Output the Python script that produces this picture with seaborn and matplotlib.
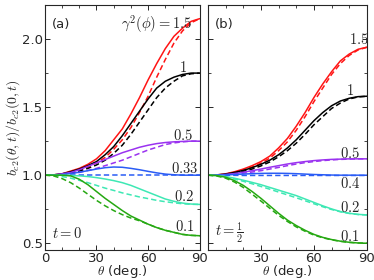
import pandas as pd
import matplotlib
matplotlib.use("Agg")
import matplotlib.pyplot as plt
from matplotlib.ticker import MultipleLocator
import seaborn as sns

theta = [0, 5, 10, 15, 20, 25, 30, 35, 40, 45, 50, 55, 60, 65, 70, 75, 80, 85, 90]

# panel (a), t = 0
a15_solid = [1.0, 1.002, 1.01, 1.03, 1.05, 1.08, 1.12, 1.18, 1.26, 1.34, 1.45, 1.57, 1.70, 1.82, 1.93, 2.02, 2.08, 2.13, 2.15]
a15_dash = [1.0, 1.0, 1.005, 1.02, 1.035, 1.06, 1.09, 1.13, 1.19, 1.26, 1.35, 1.46, 1.58, 1.72, 1.85, 1.97, 2.06, 2.12, 2.15]
a1_solid = [1.0, 1.002, 1.01, 1.025, 1.045, 1.07, 1.10, 1.15, 1.21, 1.29, 1.38, 1.47, 1.56, 1.64, 1.69, 1.72, 1.74, 1.75, 1.75]
a1_dash = [1.0, 1.0, 1.005, 1.015, 1.03, 1.05, 1.075, 1.11, 1.16, 1.22, 1.30, 1.39, 1.48, 1.57, 1.64, 1.69, 1.73, 1.745, 1.75]
a05_solid = [1.0, 1.002, 1.01, 1.02, 1.04, 1.065, 1.09, 1.115, 1.14, 1.165, 1.185, 1.205, 1.22, 1.232, 1.24, 1.245, 1.248, 1.25, 1.25]
a05_dash = [1.0, 1.0, 1.005, 1.01, 1.02, 1.035, 1.05, 1.07, 1.09, 1.11, 1.135, 1.16, 1.185, 1.205, 1.225, 1.237, 1.245, 1.25, 1.25]
a033_solid = [1.0, 1.001, 1.005, 1.012, 1.022, 1.033, 1.045, 1.055, 1.06, 1.058, 1.05, 1.04, 1.028, 1.017, 1.008, 1.003, 1.0, 1.0, 1.0]
a033_dash = [1.0, 1.0, 1.0, 1.0, 1.0, 1.0, 1.0, 1.0, 1.0, 1.0, 1.0, 1.0, 1.0, 1.0, 1.0, 1.0, 1.0, 1.0, 1.0]
a02_solid = [1.0, 1.0, 1.0, 0.998, 0.995, 0.99, 0.982, 0.972, 0.96, 0.945, 0.925, 0.90, 0.875, 0.85, 0.825, 0.808, 0.795, 0.788, 0.785]
a02_dash = [1.0, 0.998, 0.99, 0.978, 0.962, 0.945, 0.925, 0.905, 0.888, 0.87, 0.855, 0.84, 0.828, 0.815, 0.805, 0.797, 0.79, 0.786, 0.785]
a01_solid = [1.0, 1.0, 1.0, 0.995, 0.97, 0.93, 0.88, 0.83, 0.785, 0.74, 0.70, 0.67, 0.64, 0.615, 0.595, 0.58, 0.565, 0.558, 0.555]
a01_dash = [1.0, 0.995, 0.975, 0.945, 0.905, 0.86, 0.815, 0.775, 0.74, 0.71, 0.685, 0.665, 0.64, 0.615, 0.595, 0.58, 0.565, 0.558, 0.555]

# panel (b), t = 1/2
b15_solid = [1.0, 1.002, 1.01, 1.025, 1.045, 1.07, 1.10, 1.14, 1.20, 1.27, 1.36, 1.46, 1.57, 1.67, 1.76, 1.84, 1.89, 1.925, 1.94]
b15_dash = [1.0, 1.0, 1.007, 1.02, 1.038, 1.06, 1.088, 1.125, 1.18, 1.245, 1.33, 1.43, 1.54, 1.64, 1.74, 1.82, 1.88, 1.92, 1.94]
b1_solid = [1.0, 1.002, 1.008, 1.02, 1.035, 1.055, 1.08, 1.11, 1.15, 1.20, 1.26, 1.33, 1.40, 1.46, 1.51, 1.545, 1.565, 1.577, 1.58]
b1_dash = [1.0, 1.0, 1.005, 1.015, 1.028, 1.045, 1.068, 1.097, 1.135, 1.18, 1.235, 1.30, 1.37, 1.43, 1.49, 1.53, 1.56, 1.575, 1.58]
b05_solid = [1.0, 1.001, 1.005, 1.012, 1.022, 1.033, 1.045, 1.058, 1.07, 1.082, 1.092, 1.10, 1.107, 1.112, 1.116, 1.118, 1.12, 1.12, 1.12]
b05_dash = [1.0, 1.0, 1.003, 1.008, 1.015, 1.023, 1.033, 1.045, 1.057, 1.07, 1.082, 1.092, 1.10, 1.107, 1.112, 1.116, 1.118, 1.12, 1.12]
b04_solid = [1.0, 1.0, 1.002, 1.005, 1.008, 1.011, 1.013, 1.014, 1.014, 1.013, 1.011, 1.008, 1.005, 1.003, 1.001, 1.0, 1.0, 1.0, 1.0]
b04_dash = [1.0, 1.0, 1.0, 0.999, 0.998, 0.998, 0.998, 0.998, 0.998, 0.998, 0.998, 0.998, 0.998, 0.998, 0.998, 0.998, 0.998, 0.998, 0.998]
b02_solid = [1.0, 0.998, 0.99, 0.978, 0.963, 0.947, 0.93, 0.91, 0.89, 0.87, 0.85, 0.825, 0.80, 0.775, 0.752, 0.733, 0.72, 0.712, 0.708]
b02_dash = [1.0, 0.996, 0.986, 0.972, 0.955, 0.937, 0.917, 0.897, 0.876, 0.855, 0.834, 0.812, 0.79, 0.768, 0.748, 0.731, 0.719, 0.711, 0.708]
b01_solid = [1.0, 0.997, 0.985, 0.96, 0.925, 0.88, 0.83, 0.775, 0.72, 0.67, 0.63, 0.595, 0.565, 0.543, 0.527, 0.515, 0.507, 0.502, 0.50]
b01_dash = [1.0, 0.994, 0.978, 0.95, 0.91, 0.86, 0.81, 0.757, 0.705, 0.66, 0.62, 0.588, 0.56, 0.54, 0.525, 0.514, 0.506, 0.502, 0.50]

gammas_a = ["1.5", "1", "0.5", "0.33", "0.2", "0.1"]
gammas_b = ["1.5", "1", "0.5", "0.4", "0.2", "0.1"]
colors = ["#ff1414", "#000000", "#9a32f0", "#2a5cf5", "#3ee8b4", "#26a812"]

series_a = [(a15_solid, a15_dash), (a1_solid, a1_dash), (a05_solid, a05_dash),
            (a033_solid, a033_dash), (a02_solid, a02_dash), (a01_solid, a01_dash)]
series_b = [(b15_solid, b15_dash), (b1_solid, b1_dash), (b05_solid, b05_dash),
            (b04_solid, b04_dash), (b02_solid, b02_dash), (b01_solid, b01_dash)]

# curve labels: (x, y) in data units
labels_a = [(85.5, 2.11), (80.5, 1.79), (80.5, 1.29), (81.5, 1.05), (81, 0.84), (81, 0.62)]
labels_b = [(85.5, 2.0), (80.5, 1.62), (80.5, 1.16), (80.5, 0.94), (80.5, 0.76), (80.5, 0.55)]


def make_frame(gammas, series):
    rows = []
    for g, (sol, das) in zip(gammas, series):
        for th, v in zip(theta, sol):
            rows.append({"theta": th, "b": v, "gamma": g, "kind": "solid"})
        for th, v in zip(theta, das):
            rows.append({"theta": th, "b": v, "gamma": g, "kind": "dashed"})
    return pd.DataFrame(rows)


df_a = make_frame(gammas_a, series_a)
df_b = make_frame(gammas_b, series_b)

sns.set_style("ticks")
plt.rcParams["font.family"] = ["DejaVu Sans"]
plt.rcParams["mathtext.fontset"] = "cm"
plt.rcParams["xtick.direction"] = "in"
plt.rcParams["ytick.direction"] = "in"

fig = plt.figure(figsize=(3.74, 2.80), dpi=100)
ax_a = fig.add_axes([0.120, 0.107, 0.414, 0.875])
ax_b = fig.add_axes([0.556, 0.107, 0.425, 0.875])

for ax, df, gammas, labels, tag, tlabel in [
        (ax_a, df_a, gammas_a, labels_a, "(a)", r"$t=0$"),
        (ax_b, df_b, gammas_b, labels_b, "(b)", r"$t=\frac{1}{2}$")]:
    sns.lineplot(data=df, x="theta", y="b", hue="gamma", style="kind",
                 palette=dict(zip(gammas, colors)),
                 dashes={"solid": "", "dashed": (3.5, 2)},
                 linewidth=1.1, legend=False, ax=ax)
    ax.set_xlim(0, 90)
    ax.set_ylim(0.45, 2.25)
    ax.xaxis.set_major_locator(MultipleLocator(30))
    ax.xaxis.set_minor_locator(MultipleLocator(10))
    ax.yaxis.set_major_locator(MultipleLocator(0.5))
    ax.yaxis.set_minor_locator(MultipleLocator(0.25))
    ax.tick_params(which="both", top=True, right=True, labelsize=9.5, pad=1.5)
    ax.tick_params(which="major", length=3.5, width=0.7)
    ax.tick_params(which="minor", length=2, width=0.6)
    for s in ax.spines.values():
        s.set_linewidth(0.8)
    ax.set_xlabel(r"$\theta$ (deg.)", fontsize=9.5, labelpad=-1.2)
    ax.text(4, 2.11, tag, fontsize=9.5, va="center", ha="left")
    ax.text(4, 0.575, tlabel, fontsize=10.5, va="center", ha="left")
    for g, (lx, ly) in zip(gammas, labels):
        if tag == "(a)" and g == "1.5":
            ax.text(lx, ly, r"$\gamma^2(\phi)=1.5$", fontsize=10.5, va="center", ha="right")
        else:
            ax.text(lx, ly, "$" + g + "$", fontsize=10.5, va="center", ha="center")

ax_a.set_ylabel(r"$b_{c2}(\theta,t)/b_{c2}(0,t)$", fontsize=10, labelpad=0)
ax_b.set_ylabel("")
ax_b.set_yticklabels([])
ax_b.set_xticks([30, 60, 90])
ax_b.xaxis.set_minor_locator(MultipleLocator(10))

fig.savefig("out.png", dpi=100)
